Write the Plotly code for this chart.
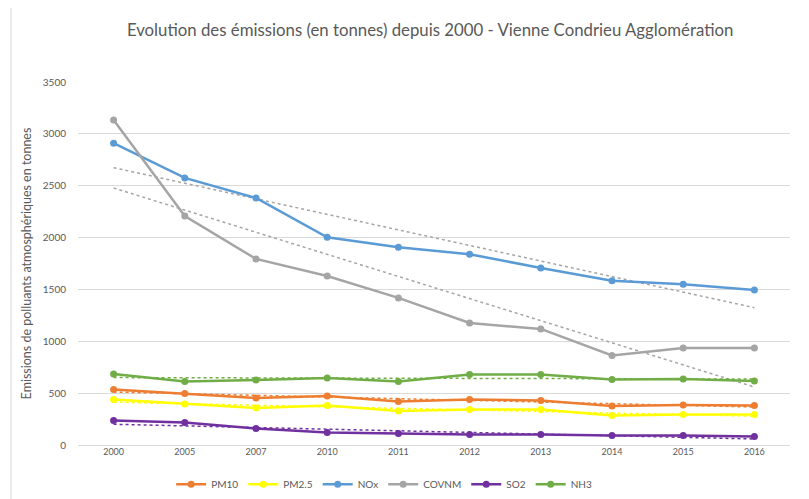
import plotly.graph_objects as go

years = ["2000", "2005", "2007", "2010", "2011", "2012", "2013", "2014", "2015", "2016"]

pm10 = [535, 497, 453, 472, 419, 439, 429, 376, 386, 381]
pm25 = [439, 395, 357, 381, 328, 342, 342, 284, 294, 294]
nox = [2910, 2575, 2382, 2003, 1906, 1840, 1707, 1583, 1549, 1495]
covnm = [3134, 2208, 1794, 1630, 1418, 1176, 1119, 863, 935, 935]
so2 = [236, 217, 159, 120, 111, 101, 101, 92, 92, 82]
nh3 = [685, 612, 627, 646, 612, 680, 680, 632, 636, 617]

series_names = ["PM10", "PM2.5", "NOx", "COVNM", "SO2", "NH3"]
series_values = [pm10, pm25, nox, covnm, so2, nh3]
series_colors = ["#ED7D31", "#FFFF00", "#5B9BD5", "#A5A5A5", "#7030A0", "#70AD47"]

# linear trend lines (start at 2000, end at 2016)
trend_start = [511, 413, 2674, 2478, 200, 650]
trend_end = [366, 278, 1324, 559, 58, 636]
trend_colors = ["#ED7D31", "#FFFF00", "#A5A5A5", "#A5A5A5", "#7030A0", "#70AD47"]

fig = go.Figure()

for s, e, col in zip(trend_start, trend_end, trend_colors):
    fig.add_trace(go.Scatter(
        x=[years[0], years[-1]], y=[s, e], mode="lines",
        line=dict(color=col, width=1.5, dash="dot"),
        showlegend=False, hoverinfo="skip",
    ))

for name, vals, col in zip(series_names, series_values, series_colors):
    fig.add_trace(go.Scatter(
        x=years, y=vals, name=name, mode="lines+markers",
        line=dict(color=col, width=2.5),
        marker=dict(color=col, size=7, symbol="circle"),
    ))

fig.update_layout(
    width=801, height=491,
    paper_bgcolor="white", plot_bgcolor="white",
    margin=dict(l=70, r=19, t=74, b=54, autoexpand=False),
    font=dict(family="Lato, Open Sans, sans-serif", color="#595959"),
    title=dict(
        text="Evolution des émissions (en tonnes) depuis 2000 - Vienne Condrieu Agglomération",
        x=0.527, xanchor="center", y=0.955, yanchor="middle",
        font=dict(size=16.8, color="#595959"),
    ),
    xaxis=dict(
        type="category", categoryorder="array", categoryarray=years,
        range=[-0.5, len(years) - 0.5],
        showgrid=False, showline=False, ticks="", automargin=False,
        tickfont=dict(size=9, color="#595959"), zeroline=False,
    ),
    yaxis=dict(
        range=[0, 3500], dtick=500, showgrid=True, gridcolor="#D9D9D9", gridwidth=1,
        zeroline=True, zerolinecolor="#D9D9D9", zerolinewidth=1, automargin=False,
        showline=False, ticks="", ticklabelstandoff=11,
        tickfont=dict(size=10, color="#595959"),
        title=dict(text="Emissions de polluants atmosphériques en tonnes",
                   font=dict(size=12.5, color="#595959"), standoff=8),
    ),
    legend=dict(
        orientation="h", x=0.43, xanchor="center", y=-0.108, yanchor="middle",
        font=dict(size=10, color="#595959"), itemwidth=30,
    ),
    shapes=[dict(type="rect", xref="paper", yref="paper",
                 x0=-0.094, x1=1.02, y0=-0.19, y1=1.21,
                 line=dict(color="#D9D9D9", width=1))],
)

fig.write_html("out.html")
